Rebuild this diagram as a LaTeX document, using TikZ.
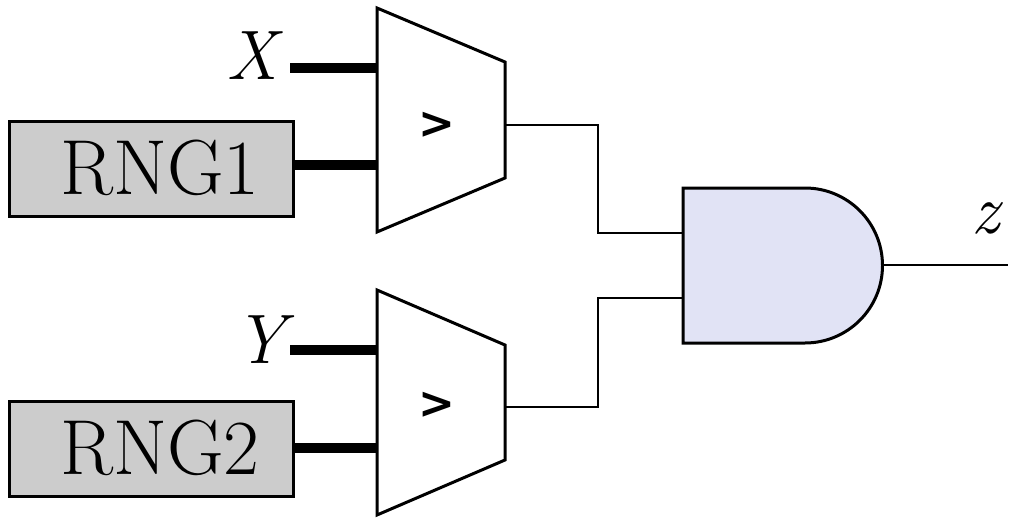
\documentclass[tikz,border=0pt]{standalone}
\usepackage{fontspec}
\newfontfamily\cmpfont{DejaVu Sans}
\begin{document}
\begin{tikzpicture}[x=1pt,y=-1pt,line width=3pt,
  thin/.style={line width=2.5pt},
  bus/.style={line width=10pt},
  rng/.style={draw,fill=black!20,minimum width=284pt,minimum height=95pt,inner sep=0pt},
  rngt/.style={font=\fontsize{78}{78}\selectfont},
  lbl/.style={font=\fontsize{70}{70}\selectfont\itshape},
  cmp/.style={font=\fontsize{44}{44}\selectfont\cmpfont\bfseries}]
\useasboundingbox (0,0) rectangle (1013,522);
% comparators
\draw (377,8) -- (505,62) -- (505,178) -- (377,232) -- cycle;
\draw (377,290) -- (505,345) -- (505,460) -- (377,515) -- cycle;
\node[cmp] (g1) at (437,125) {>};
\node[cmp] (g2) at (437,405) {>};
% rng boxes
\node[rng,anchor=north west] (r1) at (8,120) {};
\node[rng,anchor=north west] (r2) at (8,400) {};
\node[rngt] (t1) at (160,168) {RNG1};
\node[rngt] (t2) at (160,448) {RNG2};
\node[lbl] (x) at (252,56) {X};
\node[lbl] (y) at (260,340) {Y};
\coordinate (c1x) at (377,68); \coordinate (c1r) at (377,165);
\coordinate (c2y) at (377,350); \coordinate (c2r) at (377,448);
\draw[bus] (290,68) -- (c1x);
\draw[bus] (292,165) -- (c1r);
\draw[bus] (290,350) -- (c2y);
\draw[bus] (292,448) -- (c2r);
% AND gate
\draw[fill={rgb,255:red,225;green,227;blue,245}] (683,188) -- (805,188) arc[start angle=-90,end angle=90,radius=77.5] -- (683,343) -- cycle;
\coordinate (o1) at (505,125); \coordinate (o2) at (505,407);
\coordinate (a1) at (683,233); \coordinate (a2) at (683,298);
\coordinate (ao) at (883,265); \coordinate (zend) at (1008,265);
\draw[thin] (o1) -- (598,125) |- (a1);
\draw[thin] (o2) -- (598,407) |- (a2);
\draw[thin] (ao) -- (zend);
\node[lbl] (z) at (985,218) {z};
\end{tikzpicture}
\end{document}
